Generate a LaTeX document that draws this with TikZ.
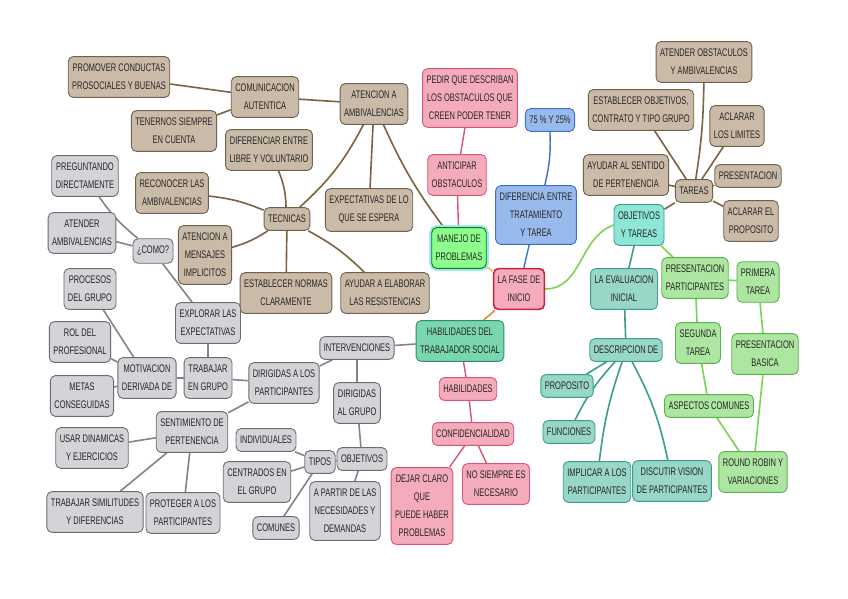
\documentclass[tikz,border=0pt]{standalone}
\usepackage{fontspec}
\setmainfont{Liberation Sans}[FakeStretch=0.68]
\usepackage{tikz}
\usetikzlibrary{backgrounds}
\definecolor{tanfill}{RGB}{202,187,168}
\definecolor{tanline}{RGB}{112,96,76}
\definecolor{tanedge}{RGB}{125,98,62}
\definecolor{pinkfill}{RGB}{244,172,188}
\definecolor{pinkline}{RGB}{214,86,116}
\definecolor{bluefill}{RGB}{152,186,236}
\definecolor{blueline}{RGB}{62,112,204}
\definecolor{greenfill}{RGB}{172,230,160}
\definecolor{greenline}{RGB}{92,178,80}
\definecolor{greenedge}{RGB}{122,212,84}
\definecolor{tealfill}{RGB}{152,214,200}
\definecolor{tealline}{RGB}{58,158,140}
\definecolor{mintfill}{RGB}{122,214,174}
\definecolor{mintline}{RGB}{44,142,104}
\definecolor{cyanfill}{RGB}{142,230,216}
\definecolor{greyfill}{RGB}{211,211,216}
\definecolor{greyline}{RGB}{108,108,116}
\definecolor{greyedge}{RGB}{132,132,136}
\definecolor{firered}{RGB}{204,32,64}
\definecolor{goldedge}{RGB}{232,192,84}
\definecolor{orangeedge}{RGB}{220,140,52}
\tikzstyle{topic} = [rectangle, rounded corners=5pt, align=center, inner xsep=4pt, inner ysep=7.5pt, line width=0.9pt, font=\fontsize{11}{18}\selectfont, text=black!85]
\tikzstyle{tanbox} = [topic, draw=tanline, fill=tanfill]
\tikzstyle{pinkbox} = [topic, draw=pinkline, fill=pinkfill]
\tikzstyle{bluebox} = [topic, draw=blueline, fill=bluefill]
\tikzstyle{greenbox} = [topic, draw=greenline, fill=greenfill]
\tikzstyle{tealbox} = [topic, draw=tealline, fill=tealfill]
\tikzstyle{greybox} = [topic, draw=greyline, fill=greyfill]
\tikzstyle{tanlink} = [draw=tanedge, line width=1.6pt]
\tikzstyle{pinklink} = [draw=pinkline, line width=1.4pt]
\tikzstyle{bluelink} = [draw=blueline, line width=1.4pt]
\tikzstyle{greenlink} = [draw=greenedge, line width=1.6pt]
\tikzstyle{teallink} = [draw=tealline, line width=1.6pt]
\tikzstyle{greylink} = [draw=greyedge, line width=1.6pt]
\begin{document}
\begin{tikzpicture}[x=1pt, y=-1pt]
        \useasboundingbox (0,0) rectangle (848,599);
        % centre
        \node (fase) [pinkbox, draw=firered, line width=1.6pt] at (519,289) {LA FASE DE\\INICIO};
        \node (manejo) [greenbox, fill=green!45!white, draw=green!50!black, preaction={draw=cyan!35, line width=5pt}] at (459,248) {MANEJO DE\\PROBLEMAS};
        \node (habts) [tealbox, fill=mintfill, draw=mintline] at (460,341) {HABILIDADES DEL\\TRABAJADOR SOCIAL};
        \node (objtareas) [tealbox, fill=cyanfill] at (639,225) {OBJETIVOS\\Y TAREAS};
        % brown, left
        \node (promover) [tanbox] at (119,77) {PROMOVER CONDUCTAS\\PROSOCIALES Y BUENAS};
        \node (comunic) [tanbox] at (265,97) {COMUNICACION\\AUTENTICA};
        \node (atencion) [tanbox] at (374,104) {ATENCION A\\AMBIVALENCIAS};
        \node (tenernos) [tanbox] at (174,131) {TENERNOS SIEMPRE\\EN CUENTA};
        \node (diferenciar) [tanbox] at (269,150) {DIFERENCIAR ENTRE\\LIBRE Y VOLUNTARIO};
        \node (reconocer) [tanbox] at (172,193) {RECONOCER LAS\\AMBIVALENCIAS};
        \node (tecnicas) [tanbox] at (287,219) {TECNICAS};
        \node (expect) [tanbox] at (369,210) {EXPECTATIVAS DE LO\\QUE SE ESPERA};
        \node (mensajes) [tanbox] at (205,255) {ATENCION A\\MENSAJES\\IMPLICITOS};
        \node (normas) [tanbox] at (286,293) {ESTABLECER NORMAS\\CLARAMENTE};
        \node (resist) [tanbox] at (385,293) {AYUDAR A ELABORAR\\LAS RESISTENCIAS};
        % pink and blue, top
        \node (pedir) [pinkbox] at (470,98) {PEDIR QUE DESCRIBAN\\LOS OBSTACULOS QUE\\CREEN PODER TENER};
        \node (anticipar) [pinkbox] at (457,175) {ANTICIPAR\\OBSTACULOS};
        \node (porcent) [bluebox] at (550,120) {75 \% Y 25\%};
        \node (diferencia) [bluebox] at (536,215) {DIFERENCIA ENTRE\\TRATAMIENTO\\Y TAREA};
        % brown, right
        \node (atender) [tanbox] at (704,62) {ATENDER OBSTACULOS\\Y AMBIVALENCIAS};
        \node (establecer) [tanbox] at (641,110) {ESTABLECER OBJETIVOS,\\CONTRATO Y TIPO GRUPO};
        \node (limites) [tanbox] at (737,126) {ACLARAR\\LOS LIMITES};
        \node (sentido) [tanbox] at (626,175) {AYUDAR AL SENTIDO\\DE PERTENENCIA};
        \node (tareas) [tanbox] at (694,191) {TAREAS};
        \node (presentacion) [tanbox] at (748,176) {PRESENTACION};
        \node (aclarar) [tanbox] at (751,221) {ACLARAR EL\\PROPOSITO};
        % teal
        \node (evaluacion) [tealbox] at (624,289) {LA EVALUACION\\INICIAL};
        \node (descripcion) [tealbox] at (626,350) {DESCRIPCION DE};
        \node (propo) [tealbox] at (567,386) {PROPOSITO};
        \node (funciones) [tealbox] at (569,432) {FUNCIONES};
        \node (implicar) [tealbox] at (597,482) {IMPLICAR A LOS\\PARTICIPANTES};
        \node (discutir) [tealbox] at (672,481) {DISCUTIR VISION\\DE PARTICIPANTES};
        % light green
        \node (prespart) [greenbox] at (695,278) {PRESENTACION\\PARTICIPANTES};
        \node (primera) [greenbox] at (758,282) {PRIMERA\\TAREA};
        \node (segunda) [greenbox] at (698,343) {SEGUNDA\\TAREA};
        \node (basica) [greenbox] at (765,354) {PRESENTACION\\BASICA};
        \node (aspectos) [greenbox] at (709,406) {ASPECTOS COMUNES};
        \node (round) [greenbox] at (753,472) {ROUND ROBIN Y\\VARIACIONES};
        % pink, bottom
        \node (habil) [pinkbox] at (468,389) {HABILIDADES};
        \node (confid) [pinkbox] at (473,434) {CONFIDENCIALIDAD};
        \node (dejar) [pinkbox] at (422,506) {DEJAR CLARO\\QUE\\PUEDE HABER\\PROBLEMAS};
        \node (nosiempre) [pinkbox] at (496,484) {NO SIEMPRE ES\\NECESARIO};
        % grey
        \node (preguntando) [greybox] at (85,176) {PREGUNTANDO\\DIRECTAMENTE};
        \node (atendamb) [greybox] at (82,233) {ATENDER\\AMBIVALENCIAS};
        \node (como) [greybox] at (153,251) {¿COMO?};
        \node (procesos) [greybox] at (90,289) {PROCESOS\\DEL GRUPO};
        \node (explorar) [greybox] at (208,323) {EXPLORAR LAS\\EXPECTATIVAS};
        \node (rol) [greybox] at (80,342) {ROL DEL\\PROFESIONAL};
        \node (motivacion) [greybox] at (147,378) {MOTIVACION\\DERIVADA DE};
        \node (trabajar) [greybox] at (208,378) {TRABAJAR\\EN GRUPO};
        \node (metas) [greybox] at (82,396) {METAS\\CONSEGUIDAS};
        \node (dirpart) [greybox] at (284,383) {DIRIGIDAS A LOS\\PARTICIPANTES};
        \node (interv) [greybox] at (357,348) {INTERVENCIONES};
        \node (dirgrupo) [greybox] at (357,403) {DIRIGIDAS\\AL GRUPO};
        \node (sentimiento) [greybox] at (192,432) {SENTIMIENTO DE\\PERTENENCIA};
        \node (dinamicas) [greybox] at (92,448) {USAR DINAMICAS\\Y EJERCICIOS};
        \node (individuales) [greybox] at (266,440) {INDIVIDUALES};
        \node (tipos) [greybox] at (320,462) {TIPOS};
        \node (objetivos) [greybox] at (362,459) {OBJETIVOS};
        \node (centrados) [greybox] at (257,482) {CENTRADOS EN\\EL GRUPO};
        \node (apartir) [greybox] at (345,511) {A PARTIR DE LAS\\NECESIDADES Y\\DEMANDAS};
        \node (similitudes) [greybox] at (95,512) {TRABAJAR SIMILITUDES\\Y DIFERENCIAS};
        \node (proteger) [greybox] at (183,513) {PROTEGER A LOS\\PARTICIPANTES};
        \node (comunes) [greybox] at (276,528) {COMUNES};
        % links
        \begin{scope}[on background layer]
        \fill [white] (0,0) rectangle (848,599);
        \draw [draw=goldedge, line width=1.6pt] (manejo) -- (fase);
        \draw [draw=orangeedge, line width=1.6pt] (fase) -- (habts);
        \draw [bluelink] (fase) -- (diferencia);
        \draw [bluelink] (diferencia) to[bend right=8] (porcent);
        \draw [greenlink] (fase.east) to[out=0, in=200] (objtareas.west);
        \draw [pinklink] (manejo) -- (anticipar);
        \draw [pinklink] (anticipar) -- (pedir);
        \draw [tanlink] (manejo) to[bend left=6] (atencion);
        \draw [tanlink] (atencion) -- (comunic);
        \draw [tanlink] (comunic) -- (promover);
        \draw [tanlink] (comunic) -- (tenernos);
        \draw [tanlink] (atencion) to[bend left=10] (tecnicas);
        \draw [tanlink] (atencion) -- (expect);
        \draw [tanlink] (tecnicas) to[bend right=10] (diferenciar);
        \draw [tanlink] (tecnicas) to[bend right=8] (reconocer);
        \draw [tanlink] (tecnicas) to[bend left=8] (mensajes);
        \draw [tanlink] (tecnicas) -- (normas);
        \draw [tanlink] (tecnicas) to[bend left=8] (resist);
        \draw [tanlink] (objtareas) -- (tareas);
        \draw [tanlink] (tareas) to[bend right=4] (atender);
        \draw [tanlink] (tareas) -- (establecer);
        \draw [tanlink] (tareas) -- (limites);
        \draw [tanlink] (tareas) -- (sentido);
        \draw [tanlink] (tareas) -- (presentacion);
        \draw [tanlink] (tareas) -- (aclarar);
        \draw [teallink] (objtareas) -- (evaluacion);
        \draw [teallink] (evaluacion) -- (descripcion);
        \draw [teallink] (descripcion) -- (propo);
        \draw [teallink] (descripcion) to[bend right=8] (funciones);
        \draw [teallink] (descripcion) to[bend right=6] (implicar);
        \draw [teallink] (descripcion) to[bend left=8] (discutir);
        \draw [greenlink] (objtareas) -- (prespart);
        \draw [greenlink] (prespart) -- (primera);
        \draw [greenlink] (primera) -- (basica);
        \draw [greenlink] (basica) -- (round);
        \draw [greenlink] (prespart) -- (segunda);
        \draw [greenlink] (segunda) -- (aspectos);
        \draw [greenlink] (aspectos) -- (round);
        \draw [pinklink] (habts) -- (habil);
        \draw [pinklink] (habil) -- (confid);
        \draw [pinklink] (confid) -- (dejar);
        \draw [pinklink] (confid) -- (nosiempre);
        \draw [greylink] (habts) -- (interv);
        \draw [greylink] (interv) -- (dirpart);
        \draw [greylink] (interv) -- (dirgrupo);
        \draw [greylink] (dirgrupo) -- (objetivos);
        \draw [greylink] (objetivos) -- (tipos);
        \draw [greylink] (objetivos) -- (apartir);
        \draw [greylink] (tipos) -- (individuales);
        \draw [greylink] (tipos) -- (centrados);
        \draw [greylink] (tipos) -- (comunes);
        \draw [greylink] (dirpart) -- (trabajar);
        \draw [greylink] (dirpart) -- (sentimiento);
        \draw [greylink] (trabajar) -- (explorar);
        \draw [greylink] (explorar) -- (como);
        \draw [greylink] (como) to[bend left=8] (preguntando);
        \draw [greylink] (como) -- (atendamb);
        \draw [greylink] (trabajar) -- (motivacion);
        \draw [greylink] (motivacion) -- (procesos);
        \draw [greylink] (motivacion) -- (rol);
        \draw [greylink] (motivacion) -- (metas);
        \draw [greylink] (sentimiento) -- (dinamicas);
        \draw [greylink] (sentimiento) -- (similitudes);
        \draw [greylink] (sentimiento) -- (proteger);
        \end{scope}
    \end{tikzpicture}
\end{document}
